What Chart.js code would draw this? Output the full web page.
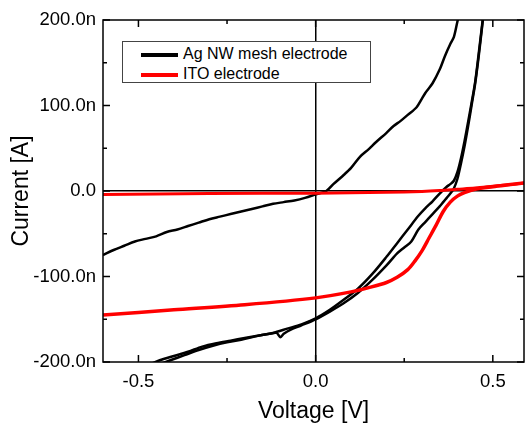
<!DOCTYPE html>
<html>
<head>
<meta charset="utf-8">
<script src="https://cdn.jsdelivr.net/npm/chart.js@4.4.1/dist/chart.umd.min.js"></script>
<style>
  html, body { margin: 0; padding: 0; background: #fff; }
  #wrap { position: relative; width: 525px; height: 425px; }
  #legend { position: absolute; left: 122px; top: 41px; width: 247px; height: 40px;
            border: 1px solid #444; background: #fff;
            font: 16px "Liberation Sans", Arial, sans-serif; color: #000; }
  .item { position: absolute; left: 18px; height: 18px; line-height: 18px; white-space: nowrap; }
  .swatch { display: inline-block; width: 37px; height: 4px; vertical-align: middle; margin-right: 5px; }
</style>
</head>
<body>
<div id="wrap">
  <canvas id="ivCurve" width="525" height="425"></canvas>
  <div id="legend">
    <div class="item" style="top:3px"><span class="swatch" style="background:#000"></span>Ag NW mesh electrode</div>
    <div class="item" style="top:23px"><span class="swatch" style="background:#f00"></span>ITO electrode</div>
  </div>
</div>
<script>
// voltage in V, current in nA
const agDarkV = [-0.6,-0.57,-0.54,-0.51,-0.48,-0.45,-0.42,-0.39,-0.36,-0.33,-0.3,-0.27,-0.24,-0.21,-0.18,-0.15,-0.12,-0.09,-0.06,-0.03,0,0.03,0.05,0.08,0.1,0.125,0.15,0.17,0.2,0.22,0.24,0.26,0.285,0.3,0.31,0.33,0.35,0.365,0.38,0.39,0.4,0.41];
const agDarkI = [-75,-69,-64,-59,-56,-53,-48,-45,-41,-37,-33,-30,-27,-24,-21,-18,-15,-13,-11,-8,-4,0,8,19,27,40,49,57,68,76,82,89,98,108,115,126,142,158,172,180,198,215];

const agLight1V = [-0.48,-0.44,-0.4,-0.36,-0.32,-0.28,-0.24,-0.2,-0.16,-0.12,-0.08,-0.04,0,0.04,0.08,0.12,0.16,0.2,0.23,0.26,0.29,0.31,0.33,0.35,0.37,0.38,0.39,0.4,0.41,0.42,0.43,0.44,0.45,0.46,0.47,0.48];
const agLight1I = [-205,-198,-193,-188,-182,-178,-175,-172,-169,-166,-161,-156,-149,-139,-127,-114,-97,-77,-61,-45,-29,-20,-12,-3,5,8,12,22,38,58,80,103,127,160,195,230];

const agLight2V = [-0.45,-0.41,-0.37,-0.33,-0.29,-0.25,-0.21,-0.17,-0.13,-0.11,-0.1,-0.09,-0.07,-0.04,0,0.04,0.08,0.12,0.16,0.2,0.23,0.25,0.27,0.29,0.31,0.33,0.35,0.36,0.37,0.38,0.39,0.4,0.41,0.42,0.43,0.44,0.45,0.46,0.47,0.48];
const agLight2I = [-204,-198,-192,-186,-181,-177,-174,-170,-167,-166,-171,-167,-162,-157,-150,-141,-131,-119,-104,-87,-73,-66,-59,-45,-36,-27,-18,-13,-8,-3,3,14,32,52,75,100,125,157,193,230];

const itoDarkV = [-0.6,-0.3,0,0.2,0.3,0.35,0.4,0.45,0.5,0.55,0.6];
const itoDarkI = [-4,-3,-2.5,-1.5,-0.5,0.5,2,3.5,5.5,7.5,10];

const itoLightV = [-0.6,-0.4,-0.2,0,0.1,0.15,0.2,0.23,0.26,0.28,0.3,0.32,0.34,0.36,0.38,0.4,0.42,0.45,0.5,0.55,0.6];
const itoLightI = [-145,-139,-133,-125,-118,-113,-107,-101,-92,-82,-70,-55,-40,-24,-13,-6,-2,2,5,7.5,10];

const xTicks = [-0.5, 0, 0.5];
const xMinor = [-0.25, 0.25];
const yTicks = [-200, -100, 0, 100, 200];
const yMinor = [-150, -50, 50, 150];

const FONT = '"Liberation Sans", Arial, sans-serif';

function pts(v, i) { return v.map((x, k) => ({ x: x, y: i[k] })); }

const zeroLine = c => (c.tick && c.tick.value === 0) ? '#000' : 'rgba(0,0,0,0)';

const frameTicks = {
  id: 'frameTicks',
  afterDraw(chart) {
    const ctx = chart.ctx, a = chart.chartArea;
    const sx = chart.scales.x, sy = chart.scales.y;
    ctx.save();
    ctx.strokeStyle = '#000';
    ctx.lineWidth = 1.5;
    ctx.strokeRect(a.left, a.top, a.right - a.left, a.bottom - a.top);
    ctx.beginPath();
    const tx = (v, len) => {
      const p = sx.getPixelForValue(v);
      ctx.moveTo(p, a.bottom); ctx.lineTo(p, a.bottom - len);
      ctx.moveTo(p, a.top); ctx.lineTo(p, a.top + len);
    };
    const ty = (v, len) => {
      const p = sy.getPixelForValue(v);
      ctx.moveTo(a.left, p); ctx.lineTo(a.left + len, p);
      ctx.moveTo(a.right, p); ctx.lineTo(a.right - len, p);
    };
    xTicks.forEach(v => tx(v, 7));
    xMinor.forEach(v => tx(v, 4));
    yTicks.forEach(v => ty(v, 7));
    yMinor.forEach(v => ty(v, 4));
    ctx.stroke();
    ctx.restore();
  }
};

new Chart(document.getElementById('ivCurve'), {
  type: 'scatter',
  data: {
    datasets: [
      { label: 'Ag NW mesh electrode', data: pts(agDarkV, agDarkI), borderColor: '#000', borderWidth: 2.5, order: 1 },
      { label: 'Ag NW mesh electrode', data: pts(agLight1V, agLight1I), borderColor: '#000', borderWidth: 2.5, order: 1 },
      { label: 'Ag NW mesh electrode', data: pts(agLight2V, agLight2I), borderColor: '#000', borderWidth: 2.5, order: 1 },
      { label: 'ITO electrode', data: pts(itoDarkV, itoDarkI), borderColor: '#f00', borderWidth: 3, order: 0 },
      { label: 'ITO electrode', data: pts(itoLightV, itoLightI), borderColor: '#f00', borderWidth: 3.5, order: 0 }
    ]
  },
  options: {
    responsive: false,
    animation: false,
    devicePixelRatio: 1,
    showLine: true,
    elements: { point: { radius: 0 }, line: { tension: 0.3, fill: false } },
    layout: { padding: { top: 20, right: 1, left: 0, bottom: 0 } },
    plugins: { legend: { display: false }, tooltip: { enabled: false } },
    scales: {
      x: {
        type: 'linear', min: -0.6, max: 0.588,
        afterBuildTicks: s => { s.ticks = xTicks.map(v => ({ value: v })); },
        afterFit: s => { s.height = 63; },
        border: { display: false },
        grid: { drawTicks: false, color: zeroLine, lineWidth: 1.5 },
        ticks: { color: '#000', padding: 9, maxRotation: 0, font: { family: FONT, size: 18.5 },
                 callback: v => v.toFixed(1) },
        title: { display: true, text: 'Voltage [V]', color: '#000', padding: 0, font: { family: FONT, size: 23 } }
      },
      y: {
        type: 'linear', min: -200, max: 200,
        afterBuildTicks: s => { s.ticks = yTicks.map(v => ({ value: v })); },
        afterFit: s => { s.width = 103; },
        border: { display: false },
        grid: { drawTicks: false, color: zeroLine, lineWidth: 1.5 },
        ticks: { color: '#000', padding: 7, font: { family: FONT, size: 18.5 },
                 callback: v => v === 0 ? '0.0' : v.toFixed(1) + 'n' },
        title: { display: true, text: 'Current [A]', color: '#000', padding: { top: 8, bottom: 0 }, font: { family: FONT, size: 23 } }
      }
    }
  },
  plugins: [frameTicks]
});
</script>
</body>
</html>
